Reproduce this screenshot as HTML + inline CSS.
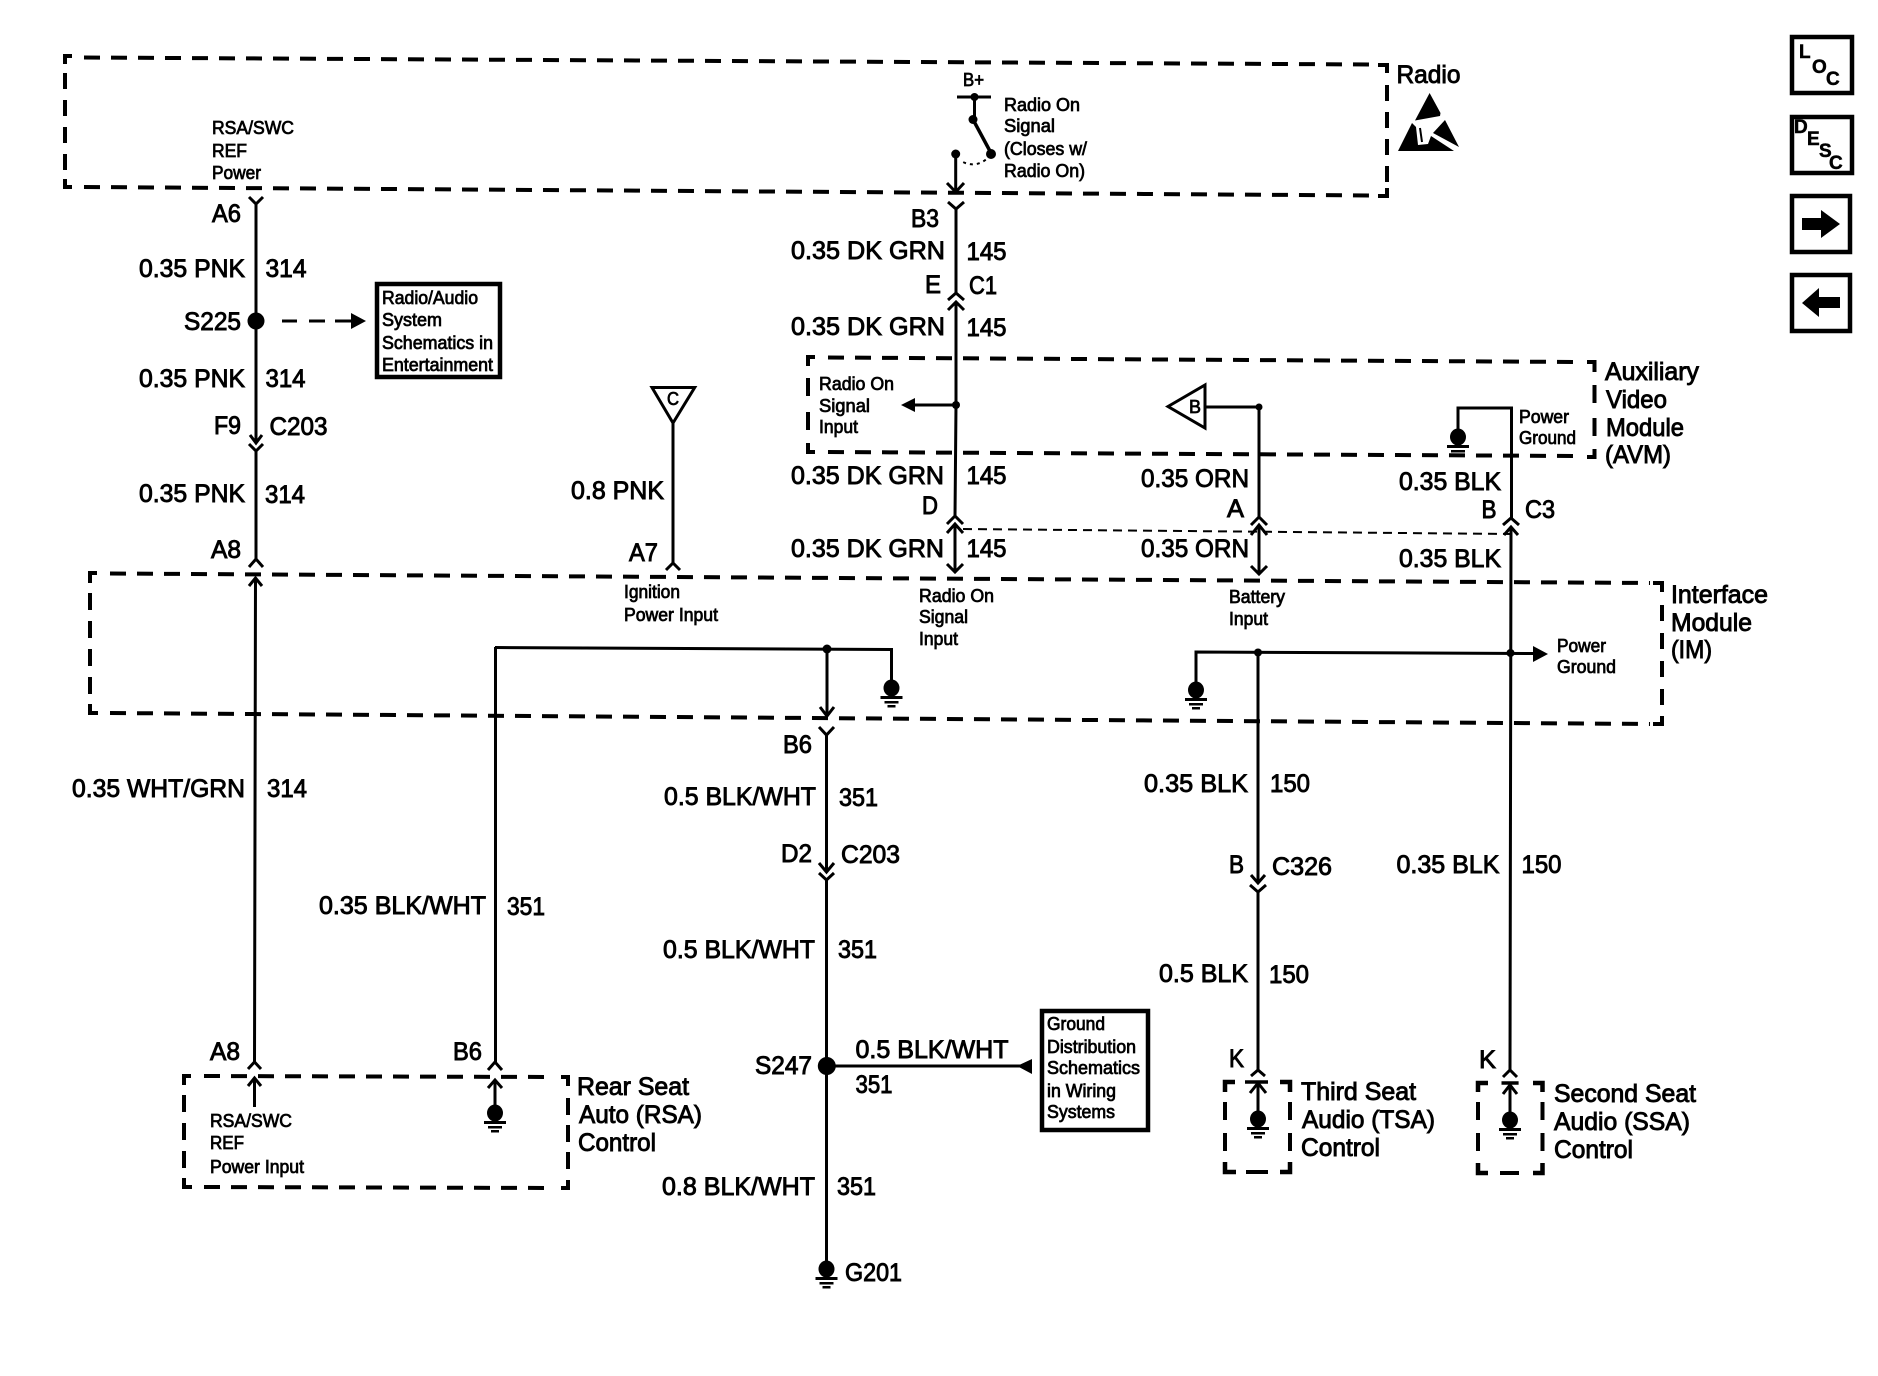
<!DOCTYPE html>
<html><head><meta charset="utf-8"><style>
html,body{margin:0;padding:0;background:#fff}
svg{display:block}
text{font-family:"Liberation Sans",sans-serif;fill:#000;stroke:#000}
.b{font-size:25px;stroke-width:.9}
.s{font-size:18px;stroke-width:.75}
.h{font-size:19px;font-weight:bold;stroke-width:.5}
</style></head><body>
<svg width="1878" height="1376" viewBox="0 0 1878 1376" xmlns="http://www.w3.org/2000/svg">
<defs>
<g id="gnd"><ellipse cx="0" cy="8" rx="8" ry="8.5"/><rect x="-11" y="16" width="22" height="3"/><rect x="-7" y="21" width="14" height="2.5"/><rect x="-4" y="25" width="8" height="2.5"/></g>
</defs>
<rect width="1878" height="1376" fill="#fff"/>

<!-- dashed module boxes -->
<g fill="none" stroke="#000" stroke-width="4">
 <!-- Radio -->
 <path d="M84 57.5L1375 64.5" stroke-dasharray="16 11"/>
 <path d="M84 187L1375 195.5" stroke-dasharray="16 11"/>
 <path d="M65 73V175" stroke-dasharray="16 11"/>
 <path d="M1387 85V182" stroke-dasharray="16 11"/>
 <path d="M65 64V56H72M65 179V187H72M1378 65H1387V73M1378 196H1387V188"/>
 <!-- AVM -->
 <path d="M828 357.5L1580 362" stroke-dasharray="16 11"/>
 <path d="M828 452L1580 456" stroke-dasharray="16 11"/>
 <path d="M808 378V432" stroke-dasharray="18 16"/>
 <path d="M1594.5 385V436" stroke-dasharray="18 15"/>
 <path d="M808 366V357H815M808 443V452H815M1587 362H1594.5V372M1587 457H1594.5V449"/>
 <!-- Interface Module -->
 <path d="M110 573.5L1650 583" stroke-dasharray="16 11"/>
 <path d="M110 713L1650 724" stroke-dasharray="16 11"/>
 <path d="M90 593V694" stroke-dasharray="17 11"/>
 <path d="M1662 605V705" stroke-dasharray="16 12"/>
 <path d="M90 583V573H97M90 704V713H98M1653 583H1662V592M1653 724H1662V716"/>
 <!-- RSA -->
 <path d="M204 1076L555 1077" stroke-dasharray="16 11"/>
 <path d="M204 1187L555 1188" stroke-dasharray="16 11"/>
 <path d="M184 1095V1169" stroke-dasharray="17 11"/>
 <path d="M568 1098V1171" stroke-dasharray="17 10"/>
 <path d="M184 1085V1076H191M184 1178V1187H192M561 1077H568V1086M561 1188H568V1180"/>
 <!-- TSA -->
 <path d="M1225 1092V1082H1235M1225 1162V1172H1236M1280 1082H1290V1092M1280 1172H1290V1162" stroke-width="4.5"/>
 <path d="M1225 1102V1151" stroke-dasharray="18 13"/>
 <path d="M1290 1102V1151" stroke-dasharray="18 13"/>
 <path d="M1246 1172H1268"/>
 <!-- SSA -->
 <path d="M1478 1092V1083H1488M1478 1163V1173H1488M1533 1083H1542.5V1092M1533 1173H1542.5V1163" stroke-width="4.5"/>
 <path d="M1478 1102V1152" stroke-dasharray="18 13"/>
 <path d="M1542.5 1102V1152" stroke-dasharray="18 13"/>
 <path d="M1500 1173H1519"/>
</g>

<!-- wires -->
<g fill="none" stroke="#000" stroke-width="3">
 <!-- 314 -->
 <path d="M249 197L256 204L263 197M256 204V443M250 435L256 443L262 435M249 444L256 451L263 444M256 451V559M249 567L256 559L263 567"/>
 <path d="M249 586L255.5 578L262 586M255.5 578L254.5 1062M248 1069L254.5 1062L261 1069M248 1086L254.5 1078L261 1086M254.5 1078V1107"/>
 <path d="M282 321H297M309 321H325M335 321H352"/>
 <!-- 351 -->
 <path d="M495.5 647V1062M488 1070L495 1062L502 1070M488 1088L495 1080L502 1088M495 1080V1107"/>
 <path d="M495 647.5L891.5 649.5V680"/>
 <path d="M827 649V716M820 707L827 716L834 707M819 727L826.5 735L834 727M826.5 735V872M819 863L826.5 872L834 863M819 873L826.5 880L834 873M826.5 880V1263"/>
 <path d="M827 1066H1020"/>
 <!-- 145 -->
 <path d="M974.5 97V119M957 97H991"/>
 <path d="M973 119.5L991 153" stroke-width="3.5"/>
 <path d="M955.7 153V192M947 183L955.7 192L964 183"/>
 <path d="M948 202L956 209L964 202M956 209V293M948 300L956 293L964 300M948 310L956 302L964 310M956 302V405L955 516M947 524L955 516L963 524M947 533L955 524L963 533M955 524V572M947 564L955 572L963 564"/>
 <path d="M956 405H915"/>
 <!-- battery -->
 <path d="M1205 407H1259V517M1251 525L1259 517L1267 525M1251 535L1259 525L1267 535M1259 525V574M1251 566L1259 574L1267 566"/>
 <path d="M1196 683V652L1533 653.5"/>
 <path d="M1258 652V883M1251 875L1258 883L1265 875M1250 885L1258 892L1266 885M1258 892V1070M1251 1076L1258 1070L1265 1076M1258 1112V1083M1250 1093L1258 1083L1266 1093"/>
 <path d="M1245 1082H1268" stroke-width="3.5"/>
 <!-- ground 150 right -->
 <path d="M1458 431V408H1511.5V518M1503 525L1511 518L1519 525M1504 535L1511 527L1518 535M1511 527L1510 1070M1503 1077L1510 1070L1517 1077M1510 1113V1085M1503 1094L1510 1085L1517 1094"/>
 <path d="M1501.5 1083H1518.6" stroke-width="3.5"/>
 <!-- C line -->
 <path d="M673 423V563M666 570L673 563L680 570"/>
 <path d="M652 387.5H694.7L673 423Z"/>
 <path d="M1168 406.5L1205 385V428Z"/>
 <path d="M991 155Q977 170 961 161" stroke-width="2" stroke-dasharray="3 4"/>
 <path d="M963 529L1511 534" stroke-width="2" stroke-dasharray="9 6"/>
</g>

<!-- connector boxes -->
<g fill="none" stroke="#000" stroke-width="4.5">
 <rect x="377" y="284" width="123" height="93"/>
 <rect x="1042" y="1011" width="106" height="119"/>
 <rect x="1792" y="37" width="60" height="56"/>
 <rect x="1792" y="117" width="60" height="56"/>
 <rect x="1792" y="196" width="58" height="56"/>
 <rect x="1792" y="275" width="58" height="56"/>
</g>

<!-- dots, arrowheads, grounds -->
<g fill="#000" stroke="none">
 <circle cx="256" cy="321" r="8.5"/>
 <circle cx="974.5" cy="97" r="4"/><circle cx="973" cy="119.5" r="4.5"/>
 <circle cx="991" cy="154" r="5"/>
 <circle cx="955.7" cy="154" r="4.5"/>
 <circle cx="956" cy="405" r="4"/><circle cx="1259" cy="407" r="3.5"/>
 <circle cx="827" cy="649" r="4.5"/><circle cx="1258" cy="652.5" r="4"/><circle cx="1510.5" cy="653" r="4"/>
 <circle cx="826.8" cy="1066" r="9"/>
 <path d="M351 313L366 321L351 329Z"/>
 <path d="M901 405L915 398V412Z"/>
 <path d="M1548 654L1533 646V662Z"/>
 <path d="M1017 1066L1032 1059V1074Z"/>
 <use href="#gnd" x="891.5" y="680"/>
 <use href="#gnd" x="1196" y="682"/>
 <use href="#gnd" x="826.5" y="1261"/>
 <use href="#gnd" x="495" y="1105"/>
 <use href="#gnd" x="1258" y="1111"/>
 <use href="#gnd" x="1510" y="1112"/>
 <use href="#gnd" x="1458" y="429"/>
 <!-- ESD symbol -->
 <path d="M1429.6 93L1440.5 113L1440 116L1415 120.5Z"/>
 <path d="M1412 123L1398 151L1454 151L1431 136L1428 144L1418 145L1416 127Z"/>
 <path d="M1445 120L1459 147L1433 133Z"/>
 <path d="M1420 128L1422 142" stroke="#000" stroke-width="2" fill="none"/>
 <!-- nav arrows -->
 <path d="M1802 218H1821V210L1840 224L1821 238V230H1802Z"/>
 <path d="M1802 303L1819 288V297H1840V308H1819V317Z"/>
</g>

<!-- labels -->
<g>
<text class="s" x="212" y="134" textLength="82" lengthAdjust="spacingAndGlyphs">RSA/SWC</text>
<text class="s" x="212" y="157" textLength="35" lengthAdjust="spacingAndGlyphs">REF</text>
<text class="s" x="212" y="179" textLength="49" lengthAdjust="spacingAndGlyphs">Power</text>
<text class="b" x="212" y="222" textLength="29" lengthAdjust="spacingAndGlyphs">A6</text>
<text class="b" x="139" y="277" textLength="106" lengthAdjust="spacingAndGlyphs">0.35 PNK</text>
<text class="b" x="265.5" y="277" textLength="41" lengthAdjust="spacingAndGlyphs">314</text>
<text class="b" x="184" y="330" textLength="57" lengthAdjust="spacingAndGlyphs">S225</text>
<text class="s" x="382" y="304" textLength="96" lengthAdjust="spacingAndGlyphs">Radio/Audio</text>
<text class="s" x="382" y="326" textLength="60" lengthAdjust="spacingAndGlyphs">System</text>
<text class="s" x="382" y="349" textLength="111" lengthAdjust="spacingAndGlyphs">Schematics in</text>
<text class="s" x="382" y="371" textLength="111" lengthAdjust="spacingAndGlyphs">Entertainment</text>
<text class="b" x="139" y="387" textLength="106" lengthAdjust="spacingAndGlyphs">0.35 PNK</text>
<text class="b" x="265.5" y="387" textLength="40" lengthAdjust="spacingAndGlyphs">314</text>
<text class="b" x="214" y="434" textLength="27" lengthAdjust="spacingAndGlyphs">F9</text>
<text class="b" x="269.5" y="435" textLength="58" lengthAdjust="spacingAndGlyphs">C203</text>
<text class="b" x="139" y="502" textLength="106" lengthAdjust="spacingAndGlyphs">0.35 PNK</text>
<text class="b" x="265" y="503" textLength="40" lengthAdjust="spacingAndGlyphs">314</text>
<text class="b" x="211" y="558" textLength="30" lengthAdjust="spacingAndGlyphs">A8</text>
<text class="b" x="72" y="797" textLength="173" lengthAdjust="spacingAndGlyphs">0.35 WHT/GRN</text>
<text class="b" x="267" y="797" textLength="40" lengthAdjust="spacingAndGlyphs">314</text>
<text class="b" x="319" y="914" textLength="167" lengthAdjust="spacingAndGlyphs">0.35 BLK/WHT</text>
<text class="b" x="507" y="915" textLength="38" lengthAdjust="spacingAndGlyphs">351</text>
<text class="b" x="571" y="499" textLength="93" lengthAdjust="spacingAndGlyphs">0.8 PNK</text>
<text class="b" x="629" y="561" textLength="29" lengthAdjust="spacingAndGlyphs">A7</text>
<text class="s" x="624" y="598" textLength="56" lengthAdjust="spacingAndGlyphs">Ignition</text>
<text class="s" x="624" y="621" textLength="94" lengthAdjust="spacingAndGlyphs">Power Input</text>
<text class="s" x="667" y="405" textLength="12" lengthAdjust="spacingAndGlyphs">C</text>
<text class="s" x="963" y="86" textLength="21" lengthAdjust="spacingAndGlyphs">B+</text>
<text class="s" x="1004" y="111" textLength="76" lengthAdjust="spacingAndGlyphs">Radio On</text>
<text class="s" x="1004" y="132" textLength="51" lengthAdjust="spacingAndGlyphs">Signal</text>
<text class="s" x="1004" y="155" textLength="83" lengthAdjust="spacingAndGlyphs">(Closes w/</text>
<text class="s" x="1004" y="177" textLength="81" lengthAdjust="spacingAndGlyphs">Radio On)</text>
<text class="b" x="911" y="227" textLength="28" lengthAdjust="spacingAndGlyphs">B3</text>
<text class="b" x="791" y="259" textLength="154" lengthAdjust="spacingAndGlyphs">0.35 DK GRN</text>
<text class="b" x="966.5" y="260" textLength="40" lengthAdjust="spacingAndGlyphs">145</text>
<text class="b" x="925" y="293" textLength="16" lengthAdjust="spacingAndGlyphs">E</text>
<text class="b" x="969" y="294" textLength="28" lengthAdjust="spacingAndGlyphs">C1</text>
<text class="b" x="791" y="335" textLength="154" lengthAdjust="spacingAndGlyphs">0.35 DK GRN</text>
<text class="b" x="966.5" y="336" textLength="40" lengthAdjust="spacingAndGlyphs">145</text>
<text class="s" x="819" y="390" textLength="75" lengthAdjust="spacingAndGlyphs">Radio On</text>
<text class="s" x="819" y="412" textLength="51" lengthAdjust="spacingAndGlyphs">Signal</text>
<text class="s" x="819" y="433" textLength="39" lengthAdjust="spacingAndGlyphs">Input</text>
<text class="s" x="1189" y="413" textLength="12" lengthAdjust="spacingAndGlyphs">B</text>
<text class="b" x="791" y="484" textLength="153" lengthAdjust="spacingAndGlyphs">0.35 DK GRN</text>
<text class="b" x="966.5" y="484" textLength="40" lengthAdjust="spacingAndGlyphs">145</text>
<text class="b" x="922" y="514" textLength="16" lengthAdjust="spacingAndGlyphs">D</text>
<text class="b" x="791" y="557" textLength="153" lengthAdjust="spacingAndGlyphs">0.35 DK GRN</text>
<text class="b" x="966.5" y="557" textLength="40" lengthAdjust="spacingAndGlyphs">145</text>
<text class="b" x="1141" y="487" textLength="108" lengthAdjust="spacingAndGlyphs">0.35 ORN</text>
<text class="b" x="1141" y="557" textLength="108" lengthAdjust="spacingAndGlyphs">0.35 ORN</text>
<text class="b" x="1227" y="517" textLength="17" lengthAdjust="spacingAndGlyphs">A</text>
<text class="s" x="1229" y="603" textLength="56" lengthAdjust="spacingAndGlyphs">Battery</text>
<text class="s" x="1229" y="625" textLength="39" lengthAdjust="spacingAndGlyphs">Input</text>
<text class="s" x="919" y="602" textLength="75" lengthAdjust="spacingAndGlyphs">Radio On</text>
<text class="s" x="919" y="623" textLength="49" lengthAdjust="spacingAndGlyphs">Signal</text>
<text class="s" x="919" y="645" textLength="39" lengthAdjust="spacingAndGlyphs">Input</text>
<text class="b" x="783" y="753" textLength="29" lengthAdjust="spacingAndGlyphs">B6</text>
<text class="b" x="664" y="805" textLength="152" lengthAdjust="spacingAndGlyphs">0.5 BLK/WHT</text>
<text class="b" x="839" y="806" textLength="39" lengthAdjust="spacingAndGlyphs">351</text>
<text class="b" x="781" y="862" textLength="31" lengthAdjust="spacingAndGlyphs">D2</text>
<text class="b" x="841" y="863" textLength="59" lengthAdjust="spacingAndGlyphs">C203</text>
<text class="b" x="663" y="958" textLength="152" lengthAdjust="spacingAndGlyphs">0.5 BLK/WHT</text>
<text class="b" x="838" y="958" textLength="39" lengthAdjust="spacingAndGlyphs">351</text>
<text class="b" x="755" y="1074" textLength="57" lengthAdjust="spacingAndGlyphs">S247</text>
<text class="b" x="855.5" y="1058" textLength="153" lengthAdjust="spacingAndGlyphs">0.5 BLK/WHT</text>
<text class="b" x="855.5" y="1093" textLength="37" lengthAdjust="spacingAndGlyphs">351</text>
<text class="s" x="1047" y="1030" textLength="58" lengthAdjust="spacingAndGlyphs">Ground</text>
<text class="s" x="1047" y="1053" textLength="89" lengthAdjust="spacingAndGlyphs">Distribution</text>
<text class="s" x="1047" y="1074" textLength="93" lengthAdjust="spacingAndGlyphs">Schematics</text>
<text class="s" x="1047" y="1097" textLength="69" lengthAdjust="spacingAndGlyphs">in Wiring</text>
<text class="s" x="1047" y="1118" textLength="68" lengthAdjust="spacingAndGlyphs">Systems</text>
<text class="b" x="662" y="1195" textLength="153" lengthAdjust="spacingAndGlyphs">0.8 BLK/WHT</text>
<text class="b" x="837" y="1195" textLength="39" lengthAdjust="spacingAndGlyphs">351</text>
<text class="b" x="845" y="1281" textLength="57" lengthAdjust="spacingAndGlyphs">G201</text>
<text class="b" x="210" y="1060" textLength="30" lengthAdjust="spacingAndGlyphs">A8</text>
<text class="b" x="453" y="1060" textLength="29" lengthAdjust="spacingAndGlyphs">B6</text>
<text class="s" x="210" y="1127" textLength="82" lengthAdjust="spacingAndGlyphs">RSA/SWC</text>
<text class="s" x="210" y="1149" textLength="34" lengthAdjust="spacingAndGlyphs">REF</text>
<text class="s" x="210" y="1173" textLength="94" lengthAdjust="spacingAndGlyphs">Power Input</text>
<text class="b" x="577" y="1095" textLength="112" lengthAdjust="spacingAndGlyphs">Rear Seat</text>
<text class="b" x="579" y="1123" textLength="123" lengthAdjust="spacingAndGlyphs">Auto (RSA)</text>
<text class="b" x="578" y="1151" textLength="78" lengthAdjust="spacingAndGlyphs">Control</text>
<text class="b" x="1229" y="1067" textLength="15" lengthAdjust="spacingAndGlyphs">K</text>
<text class="b" x="1301" y="1100" textLength="115" lengthAdjust="spacingAndGlyphs">Third Seat</text>
<text class="b" x="1302" y="1128" textLength="133" lengthAdjust="spacingAndGlyphs">Audio (TSA)</text>
<text class="b" x="1301" y="1156" textLength="79" lengthAdjust="spacingAndGlyphs">Control</text>
<text class="b" x="1479" y="1068" textLength="17" lengthAdjust="spacingAndGlyphs">K</text>
<text class="b" x="1554" y="1102" textLength="142" lengthAdjust="spacingAndGlyphs">Second Seat</text>
<text class="b" x="1554" y="1130" textLength="136" lengthAdjust="spacingAndGlyphs">Audio (SSA)</text>
<text class="b" x="1554" y="1158" textLength="79" lengthAdjust="spacingAndGlyphs">Control</text>
<text class="b" x="1399" y="490" textLength="102" lengthAdjust="spacingAndGlyphs">0.35 BLK</text>
<text class="b" x="1481.5" y="518" textLength="15" lengthAdjust="spacingAndGlyphs">B</text>
<text class="b" x="1525" y="518" textLength="30" lengthAdjust="spacingAndGlyphs">C3</text>
<text class="b" x="1399" y="567" textLength="102" lengthAdjust="spacingAndGlyphs">0.35 BLK</text>
<text class="s" x="1557" y="652" textLength="49" lengthAdjust="spacingAndGlyphs">Power</text>
<text class="s" x="1557" y="673" textLength="59" lengthAdjust="spacingAndGlyphs">Ground</text>
<text class="b" x="1144" y="792" textLength="104" lengthAdjust="spacingAndGlyphs">0.35 BLK</text>
<text class="b" x="1270" y="792" textLength="40" lengthAdjust="spacingAndGlyphs">150</text>
<text class="b" x="1272" y="875" textLength="60" lengthAdjust="spacingAndGlyphs">C326</text>
<text class="b" x="1229" y="873" textLength="15" lengthAdjust="spacingAndGlyphs">B</text>
<text class="b" x="1396.5" y="873" textLength="103" lengthAdjust="spacingAndGlyphs">0.35 BLK</text>
<text class="b" x="1521.5" y="873" textLength="40" lengthAdjust="spacingAndGlyphs">150</text>
<text class="b" x="1159" y="982" textLength="89" lengthAdjust="spacingAndGlyphs">0.5 BLK</text>
<text class="b" x="1269" y="983" textLength="40" lengthAdjust="spacingAndGlyphs">150</text>
<text class="b" x="1396.5" y="83" textLength="64" lengthAdjust="spacingAndGlyphs">Radio</text>
<text class="s" x="1519" y="423" textLength="50" lengthAdjust="spacingAndGlyphs">Power</text>
<text class="s" x="1519" y="444" textLength="57" lengthAdjust="spacingAndGlyphs">Ground</text>
<text class="b" x="1605" y="380" textLength="94" lengthAdjust="spacingAndGlyphs">Auxiliary</text>
<text class="b" x="1606" y="408" textLength="61" lengthAdjust="spacingAndGlyphs">Video</text>
<text class="b" x="1606" y="436" textLength="78" lengthAdjust="spacingAndGlyphs">Module</text>
<text class="b" x="1605" y="463" textLength="66" lengthAdjust="spacingAndGlyphs">(AVM)</text>
<text class="b" x="1671" y="603" textLength="97" lengthAdjust="spacingAndGlyphs">Interface</text>
<text class="b" x="1671" y="631" textLength="81" lengthAdjust="spacingAndGlyphs">Module</text>
<text class="b" x="1671" y="658" textLength="41" lengthAdjust="spacingAndGlyphs">(IM)</text>
<text class="h" x="1799" y="58">L</text>
<text class="h" x="1812" y="73">O</text>
<text class="h" x="1826" y="85">C</text>
<text class="h" x="1794" y="133">D</text>
<text class="h" x="1807" y="145">E</text>
<text class="h" x="1819" y="157">S</text>
<text class="h" x="1829" y="169">C</text>
</g>
</svg>
</body></html>
